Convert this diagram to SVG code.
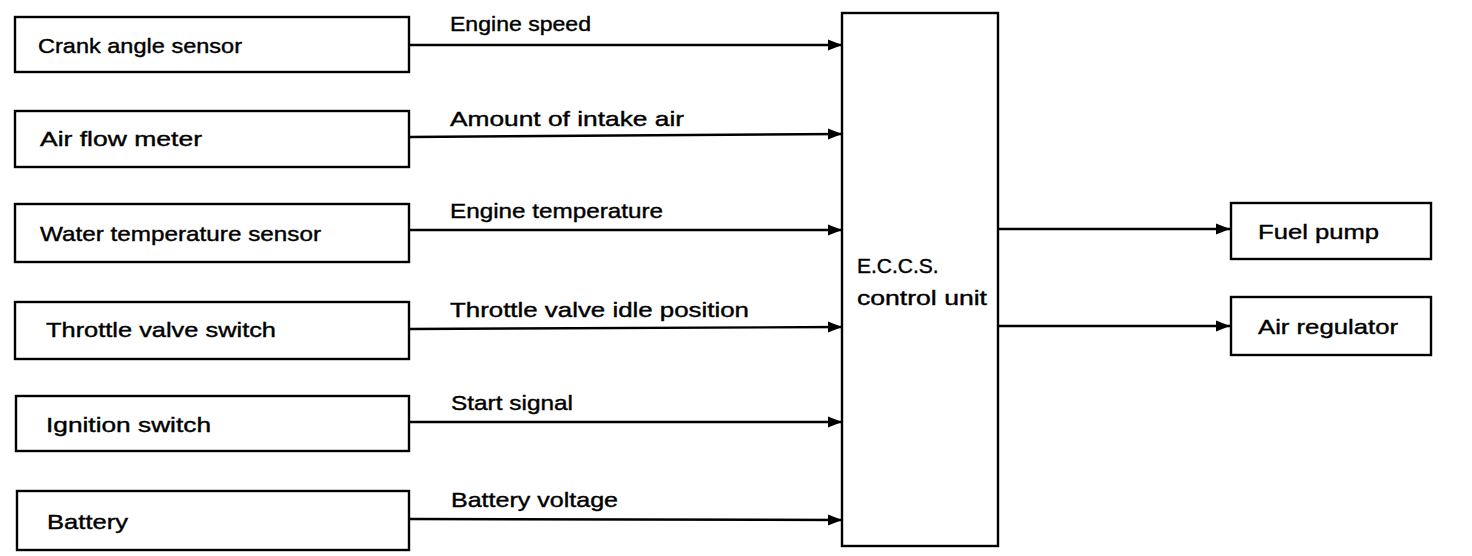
<svg xmlns="http://www.w3.org/2000/svg" width="1472" height="556" viewBox="0 0 1472 556">
<style>
.box{fill:#fff;stroke:#000;stroke-width:2.4}
.t{font-family:"Liberation Sans",Arial,sans-serif;font-size:21px;fill:#000;stroke:#000;stroke-width:0.4}
.c{stroke:#000;stroke-width:2.4;fill:none;marker-end:url(#ah)}
</style>
<defs>
<marker id="ah" markerWidth="15" markerHeight="13" refX="14" refY="6.5" orient="auto" markerUnits="userSpaceOnUse">
<path d="M0,1 L14,6.5 L0,12 Z" fill="#000"/>
</marker>
</defs>
<rect width="1472" height="556" fill="#fff"/>
<g id="connectors">
<line class="c" x1="409" y1="45" x2="842" y2="45"/>
<line class="c" x1="409" y1="137" x2="842" y2="134"/>
<line class="c" x1="409" y1="230" x2="842" y2="230"/>
<line class="c" x1="409" y1="329" x2="842" y2="327"/>
<line class="c" x1="409" y1="422" x2="842" y2="422"/>
<line class="c" x1="409" y1="519" x2="842" y2="520"/>
<line class="c" x1="998" y1="229" x2="1230" y2="229"/>
<line class="c" x1="998" y1="326" x2="1230" y2="326"/>
</g>
<g id="crank">
<rect class="box" x="15" y="17" width="394" height="55"/>
<text class="t" x="38" y="53" textLength="204" lengthAdjust="spacingAndGlyphs">Crank angle sensor</text>
</g>
<g id="airflow">
<rect class="box" x="15" y="111" width="394" height="56"/>
<text class="t" x="40" y="146" textLength="162" lengthAdjust="spacingAndGlyphs">Air flow meter</text>
</g>
<g id="water">
<rect class="box" x="15" y="204" width="394" height="58"/>
<text class="t" x="40" y="241" textLength="281" lengthAdjust="spacingAndGlyphs">Water temperature sensor</text>
</g>
<g id="throttle">
<rect class="box" x="15" y="302" width="394" height="57"/>
<text class="t" x="46" y="337" textLength="230" lengthAdjust="spacingAndGlyphs">Throttle valve switch</text>
</g>
<g id="ignition">
<rect class="box" x="16" y="396" width="393" height="55"/>
<text class="t" x="46" y="432" textLength="165" lengthAdjust="spacingAndGlyphs">Ignition switch</text>
</g>
<g id="battery">
<rect class="box" x="17" y="491" width="392" height="59"/>
<text class="t" x="47" y="529" textLength="81" lengthAdjust="spacingAndGlyphs">Battery</text>
</g>
<g id="labels">
<text class="t" x="450" y="31" textLength="141" lengthAdjust="spacingAndGlyphs">Engine speed</text>
<text class="t" x="450" y="126" textLength="234" lengthAdjust="spacingAndGlyphs">Amount of intake air</text>
<text class="t" x="450" y="218" textLength="213" lengthAdjust="spacingAndGlyphs">Engine temperature</text>
<text class="t" x="450" y="317" textLength="299" lengthAdjust="spacingAndGlyphs">Throttle valve idle position</text>
<text class="t" x="451" y="410" textLength="122" lengthAdjust="spacingAndGlyphs">Start signal</text>
<text class="t" x="451" y="507" textLength="167" lengthAdjust="spacingAndGlyphs">Battery voltage</text>
</g>
<g id="eccs">
<rect class="box" x="842" y="13" width="156" height="533"/>
<text class="t" x="857" y="273">E.C.C.S.</text>
<text class="t" x="857" y="305" textLength="130" lengthAdjust="spacingAndGlyphs">control unit</text>
</g>
<g id="fuelpump">
<rect class="box" x="1231" y="203" width="200" height="56"/>
<text class="t" x="1258" y="239" textLength="121" lengthAdjust="spacingAndGlyphs">Fuel pump</text>
</g>
<g id="airregulator">
<rect class="box" x="1231" y="297" width="200" height="58"/>
<text class="t" x="1258" y="334" textLength="140" lengthAdjust="spacingAndGlyphs">Air regulator</text>
</g>
</svg>
